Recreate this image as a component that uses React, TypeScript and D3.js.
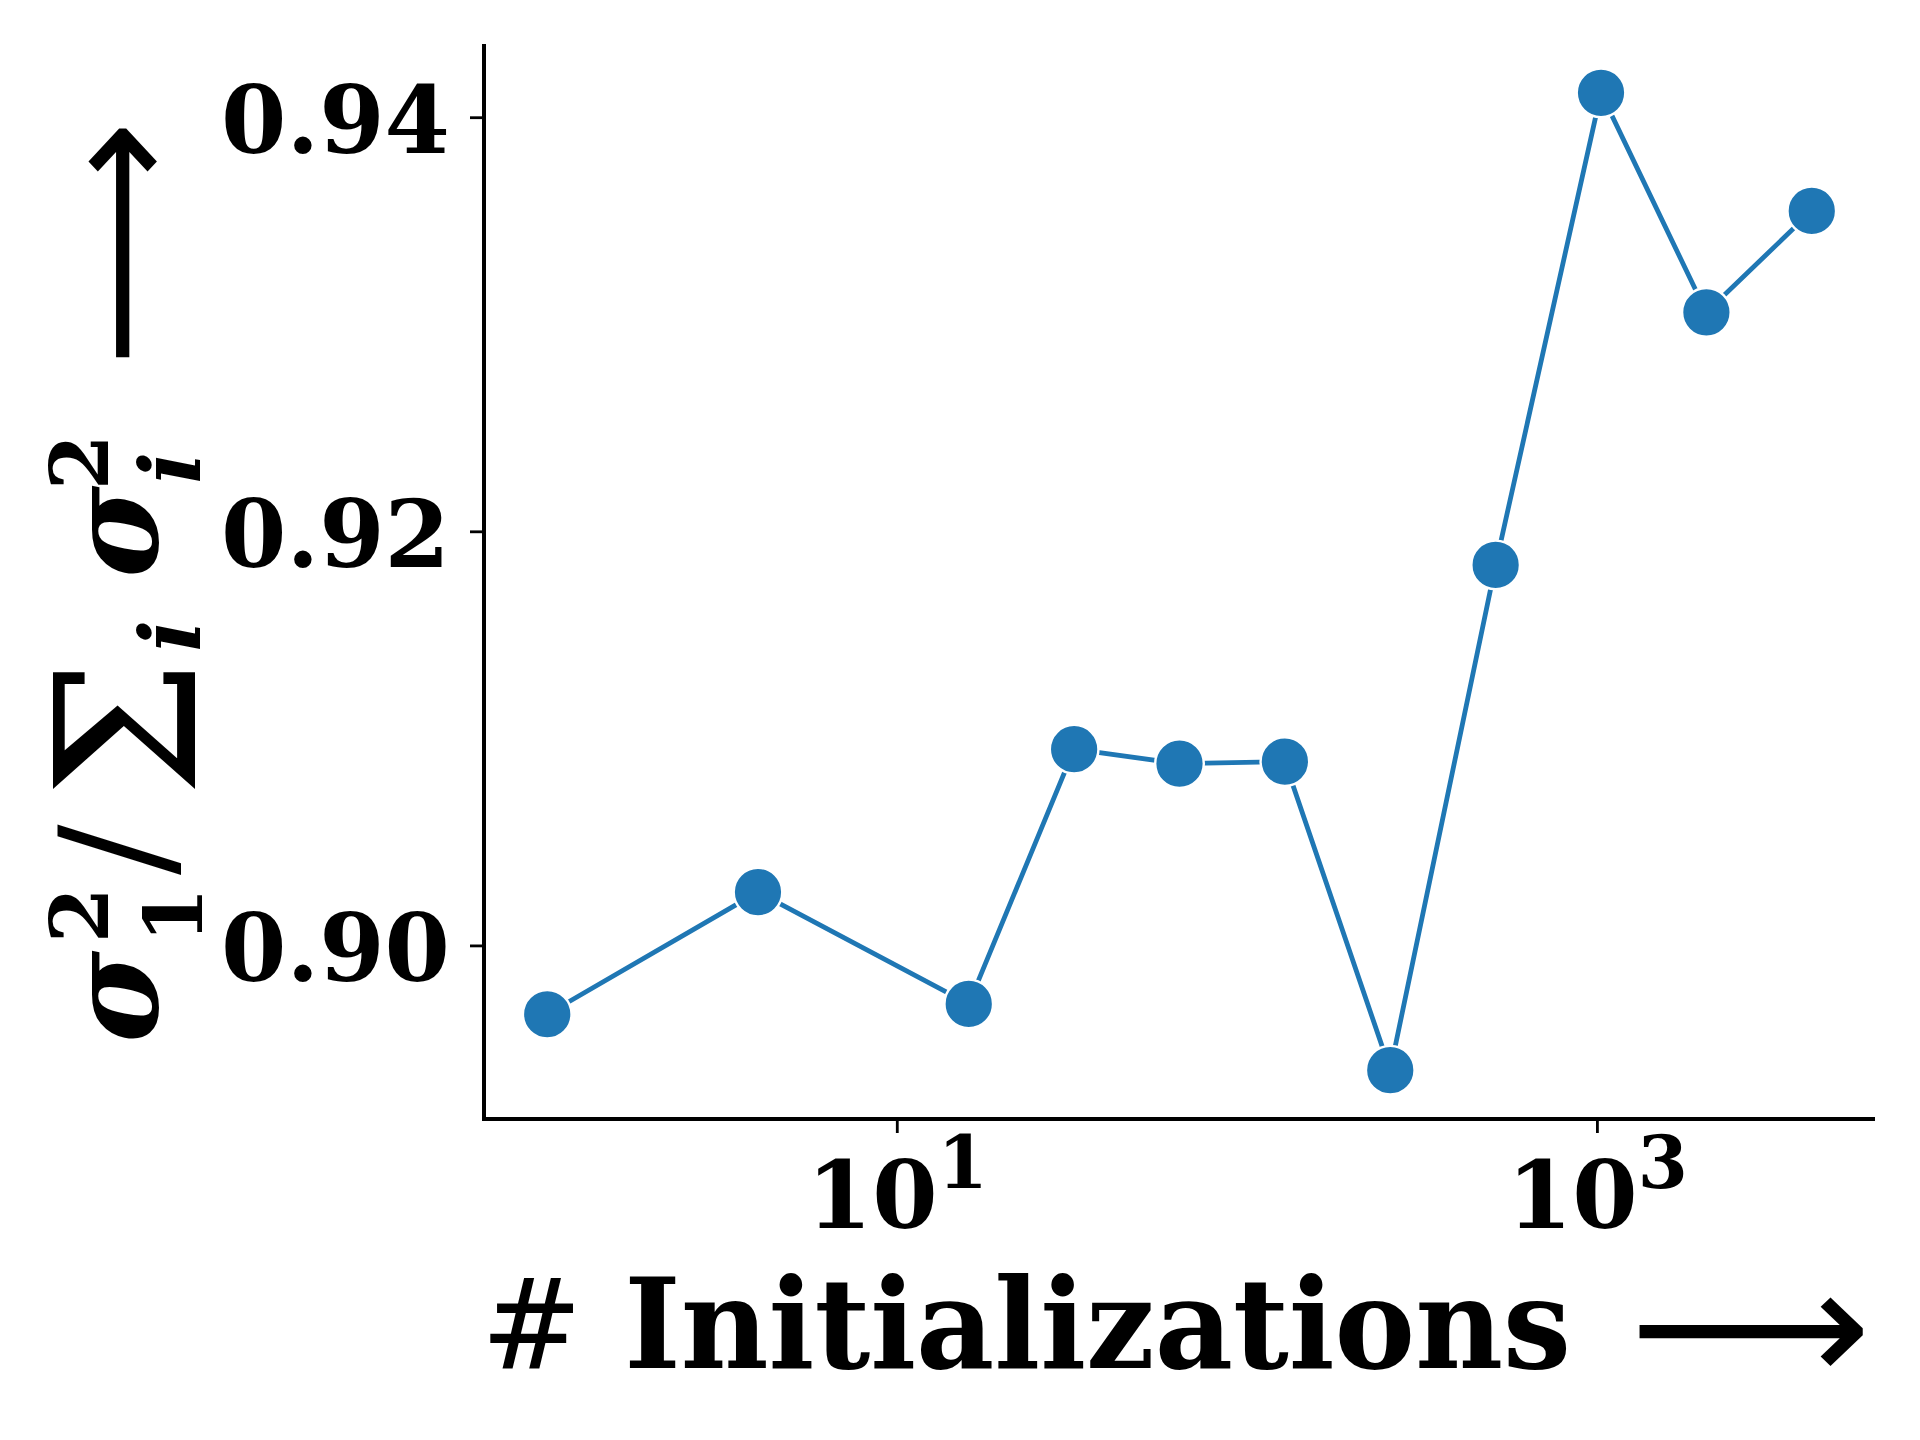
import * as d3 from "d3";
import React, { useEffect, useRef } from "react";

// number of initializations (log x) and the top singular value share
const initCounts = [1, 4, 16, 32, 64, 128, 256, 512, 1024, 2048, 4096];
const sigmaShare = [
  0.8967, 0.9026, 0.8972, 0.9095, 0.9088, 0.9089, 0.894, 0.9184, 0.9412,
  0.9306, 0.9355,
];
const yTickValues = [0.9, 0.92, 0.94];
const xTickValues = [10, 1000];

const WIDTH = 1920;
const HEIGHT = 1440;
const SERIF = "'DejaVu Serif', serif";
const SANS = "'DejaVu Sans', sans-serif";
const BLUE = "#1f77b4";

export default function App() {
  const svgRef = useRef<SVGSVGElement>(null);

  useEffect(() => {
    const svg = d3.select(svgRef.current);
    svg.selectAll("*").remove();

    const margin = { top: 44, right: 45, bottom: 321, left: 484 };
    const left = margin.left;
    const right = WIDTH - margin.right;
    const top = margin.top;
    const bottom = HEIGHT - margin.bottom;

    // matplotlib style 5% padding
    const lx = d3.extent(initCounts.map(Math.log10)) as [number, number];
    const px = (lx[1] - lx[0]) * 0.05;
    const xScale = d3
      .scaleLog()
      .domain([10 ** (lx[0] - px), 10 ** (lx[1] + px)])
      .range([left, right]);

    const ly = d3.extent(sigmaShare) as [number, number];
    const py = (ly[1] - ly[0]) * 0.05;
    const yScale = d3
      .scaleLinear()
      .domain([ly[0] - py, ly[1] + py])
      .range([bottom, top]);

    svg.append("rect").attr("width", WIDTH).attr("height", HEIGHT).attr("fill", "white");

    // line + markers
    const lineGen = d3
      .line<number>()
      .x((_, i) => xScale(initCounts[i]))
      .y((d) => yScale(d));

    svg
      .append("path")
      .attr("d", lineGen(sigmaShare))
      .attr("fill", "none")
      .attr("stroke", BLUE)
      .attr("stroke-width", 4.8);

    svg
      .append("g")
      .selectAll("circle")
      .data(sigmaShare)
      .join("circle")
      .attr("cx", (_, i) => xScale(initCounts[i]))
      .attr("cy", (d) => yScale(d))
      .attr("r", 24.3)
      .attr("fill", BLUE)
      .attr("stroke", "white")
      .attr("stroke-width", 2.4);

    // spines
    svg
      .append("path")
      .attr("d", `M${left},${top}V${bottom}H${right}`)
      .attr("fill", "none")
      .attr("stroke", "black")
      .attr("stroke-width", 4);

    // y ticks
    const yt = svg.append("g");
    yTickValues.forEach((v) => {
      const y = yScale(v);
      yt.append("line")
        .attr("x1", left - 14)
        .attr("x2", left)
        .attr("y1", y)
        .attr("y2", y)
        .attr("stroke", "black")
        .attr("stroke-width", 2.8);
      yt.append("text")
        .attr("x", left - 34)
        .attr("y", y + 35)
        .attr("text-anchor", "end")
        .attr("font-family", SERIF)
        .attr("font-weight", "bold")
        .attr("font-size", 94)
        .text(v.toFixed(2));
    });

    // x ticks
    const xt = svg.append("g");
    xTickValues.forEach((v) => {
      const x = xScale(v);
      xt.append("line")
        .attr("x1", x)
        .attr("x2", x)
        .attr("y1", bottom)
        .attr("y2", bottom + 14)
        .attr("stroke", "black")
        .attr("stroke-width", 2.8);
      const t = xt
        .append("text")
        .attr("x", x)
        .attr("y", 1228)
        .attr("text-anchor", "middle")
        .attr("font-family", SERIF)
        .attr("font-weight", "bold")
        .attr("font-size", 94);
      t.append("tspan").text("10");
      t.append("tspan")
        .attr("dy", -40)
        .attr("font-size", 72)
        .text(String(Math.round(Math.log10(v))));
    });

    // x label
    const xl = svg
      .append("text")
      .attr("x", 481)
      .attr("y", 1368)
      .attr("font-family", SERIF)
      .attr("font-weight", "bold")
      .attr("font-size", 126)
      .attr("textLength", 1090)
      .attr("lengthAdjust", "spacingAndGlyphs");
    xl.append("tspan").attr("font-weight", "normal").attr("font-style", "italic").text("#");
    xl.append("tspan").text(" Initializations");
    svg
      .append("text")
      .attr("x", 1630)
      .attr("y", 1382)
      .attr("font-family", SANS)
      .attr("font-size", 160)
      .attr("textLength", 241)
      .attr("lengthAdjust", "spacingAndGlyphs")
      .text("⟶");

    // y label, rotated, built piece by piece
    const yl = svg.append("g").attr("transform", `translate(157, 580) rotate(-90)`);
    const piece = (
      txt: string,
      gx: number,
      gy: number,
      size: number,
      weight: string,
      style: string,
      family = SERIF
    ) =>
      yl
        .append("text")
        .attr("x", gx)
        .attr("y", gy)
        .attr("font-family", family)
        .attr("font-weight", weight)
        .attr("font-style", style)
        .attr("font-size", size)
        .text(txt);

    piece("σ", -463, 0, 125, "bold", "italic");
    piece("2", -363, -49, 80, "bold", "normal");
    piece("1", -363, 45, 80, "bold", "normal");
    piece("/", -295, 10, 150, "normal", "normal");
    piece("Σ", -217, 38, 195, "normal", "normal");
    piece("i", -72, 43, 85, "bold", "italic");
    piece("σ", 2, 0, 125, "bold", "italic");
    piece("2", 90, -49, 80, "bold", "normal");
    piece("i", 96, 43, 85, "bold", "italic");
    piece("⟶", 213, 16, 160, "normal", "normal", SANS).attr("textLength", 247).attr(
      "lengthAdjust",
      "spacingAndGlyphs"
    );
  }, []);

  return (
    <svg
      ref={svgRef}
      width={WIDTH}
      height={HEIGHT}
      style={{ position: "absolute", left: 0, top: 0, display: "block" }}
    />
  );
}
